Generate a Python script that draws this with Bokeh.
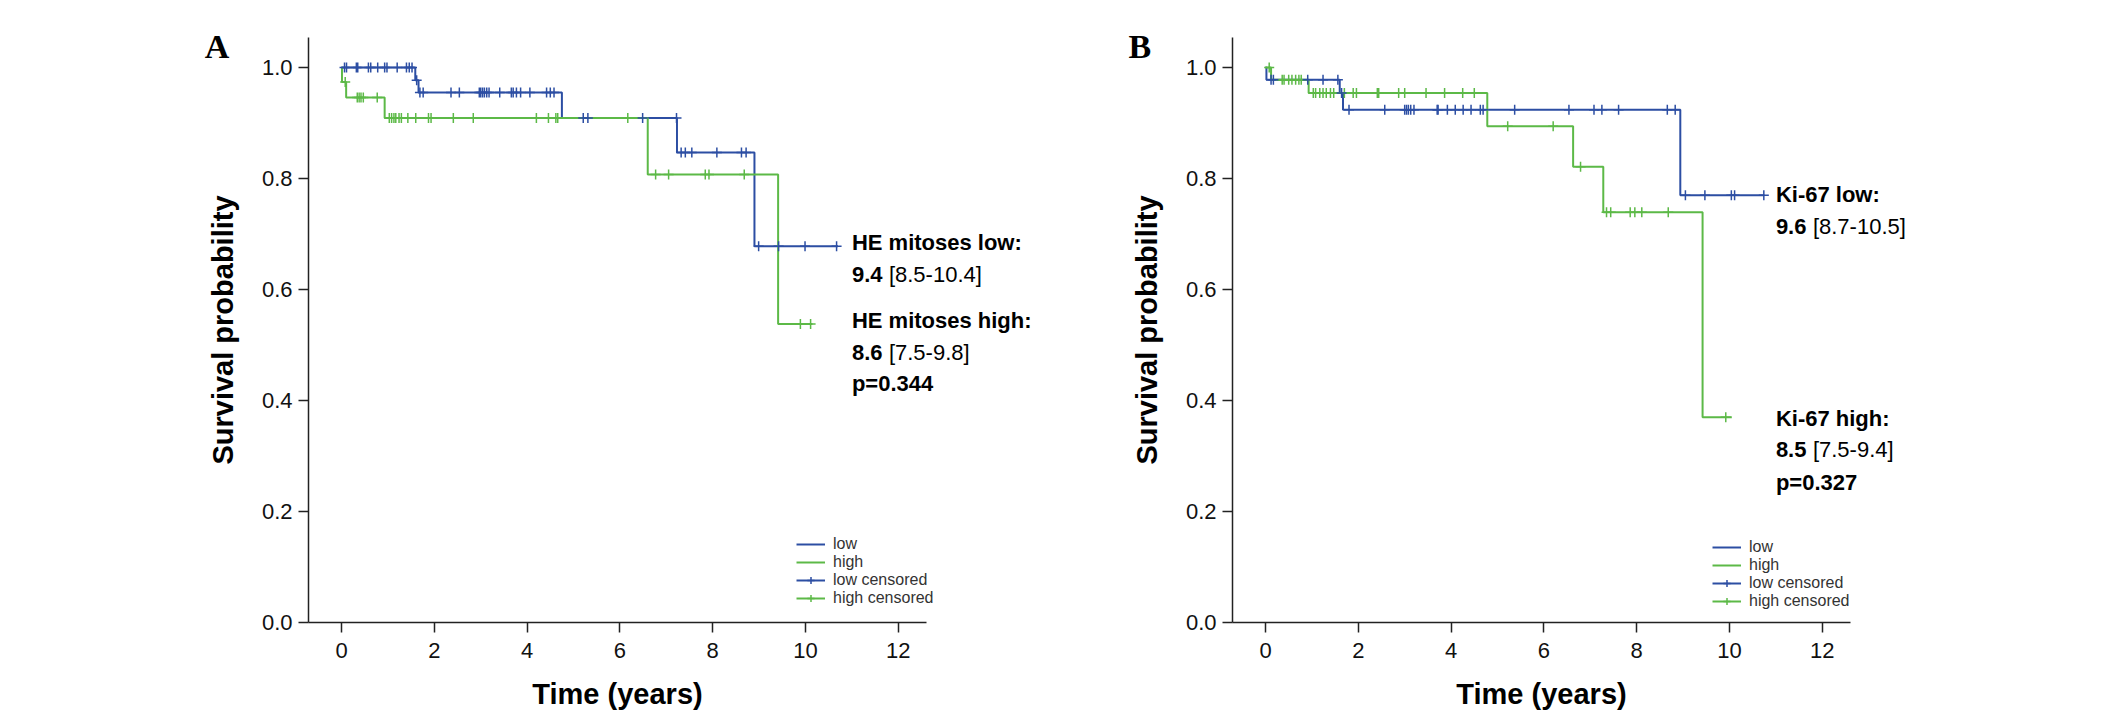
import numpy as np
from bokeh.plotting import figure
from bokeh.layouts import row
from bokeh.models import FixedTicker, NumeralTickFormatter, Label, Legend, LegendItem
from bokeh.embed import file_html
from bokeh.resources import INLINE

# survival curves: step times (years) and survival levels
a_low_t = [0.0, 1.59, 1.66, 4.75, 7.23, 8.90, 10.70]
a_low_s = [1.0, 0.977, 0.955, 0.909, 0.847, 0.678, 0.678]
a_high_t = [0.0, 0.01, 0.10, 0.93, 6.60, 9.41, 10.15]
a_high_s = [1.0, 0.974, 0.946, 0.909, 0.807, 0.538, 0.538]

a_low_cens = [0.065, 0.108, 0.32, 0.35, 0.58, 0.63, 0.78, 0.93, 0.98, 1.20, 1.40, 1.46,
              1.52, 1.62, 1.69, 1.76, 2.36, 2.54, 2.97, 3.00, 3.04, 3.08, 3.13, 3.18,
              3.41, 3.66, 3.70, 3.77, 3.86, 4.06, 4.42, 4.50, 4.58, 5.21, 5.31, 6.49,
              7.22, 7.32, 7.41, 7.55, 8.09, 8.62, 8.72, 8.99, 9.42, 9.99, 10.67]
a_high_cens = [0.08, 0.34, 0.38, 0.42, 0.47, 0.77, 1.03, 1.08, 1.13, 1.17, 1.24, 1.29,
               1.43, 1.60, 1.875, 1.93, 2.41, 2.84, 4.20, 4.46, 4.62, 4.66, 6.17, 6.77,
               7.05, 7.84, 7.92, 8.68, 9.89, 10.11]

b_low_t = [0.0, 0.02, 1.60, 1.67, 8.94, 10.75]
b_low_s = [1.0, 0.978, 0.954, 0.924, 0.770, 0.770]
b_high_t = [0.0, 0.12, 0.93, 4.78, 6.63, 7.28, 9.42, 10.05]
b_high_s = [1.0, 0.978, 0.954, 0.894, 0.821, 0.739, 0.370, 0.370]

b_low_cens = [0.12, 0.17, 0.91, 1.24, 1.56, 1.64, 1.80, 2.57, 3.00, 3.04, 3.08, 3.13,
              3.20, 3.70, 3.72, 3.92, 4.09, 4.26, 4.43, 4.63, 4.69, 5.37, 6.54, 7.08,
              7.25, 7.61, 8.66, 8.83, 9.05, 9.47, 10.04, 10.11, 10.74]
b_high_cens = [0.08, 0.36, 0.40, 0.50, 0.57, 0.65, 0.72, 0.77, 1.03, 1.08, 1.17, 1.24,
               1.31, 1.40, 1.47, 1.70, 1.89, 1.96, 2.41, 2.44, 2.87, 3.00, 3.46, 3.86,
               4.25, 4.50, 5.22, 6.20, 6.79, 7.35, 7.44, 7.86, 7.96, 8.11, 8.68, 9.92]

x_ticks = [0, 2, 4, 6, 8, 10, 12]
y_ticks = [0.0, 0.2, 0.4, 0.6, 0.8, 1.0]

a_notes = [("HE mitoses low:", 0.685), ("9.4", 0.627), ("HE mitoses high:", 0.544),
           ("8.6", 0.486), ("p=0.344", 0.431)]
a_ci = [("[8.5-10.4]", 0.627), ("[7.5-9.8]", 0.486)]
b_notes = [("Ki-67 low:", 0.771), ("9.6", 0.714), ("Ki-67 high:", 0.368),
           ("8.5", 0.311), ("p=0.327", 0.253)]
b_ci = [("[8.7-10.5]", 0.714), ("[7.5-9.4]", 0.311)]

BLUE = "#2c4ea3"
GREEN = "#5cb947"
FONT = "Liberation Sans"
X_LO, X_HI = -0.71, 12.6
Y_HI = 1.054


def level_at(times, surv, pts):
    idx = np.searchsorted(np.array(times), np.array(pts), side="right") - 1
    return list(np.array(surv)[idx])


def panel(letter, low_t, low_s, high_t, high_s, low_c, high_c, notes, ci,
          xr, fw, left, legend_xy):
    # frame covers the whole panel; the axes sit at fixed data positions inside it
    p = figure(frame_width=fw, frame_height=697, x_range=xr, y_range=(-0.1622, 1.0937),
               output_backend="svg", toolbar_location=None,
               min_border_left=left, min_border_right=0,
               min_border_top=15, min_border_bottom=0)
    p.outline_line_color = None
    p.xgrid.visible = False
    p.ygrid.visible = False

    for ax in (p.xaxis[0], p.yaxis[0]):
        ax.axis_line_color = "#222222"
        ax.axis_line_width = 1.5
        ax.major_tick_line_color = "#222222"
        ax.major_tick_line_width = 1.5
        ax.major_tick_out = 10
        ax.major_tick_in = 0
        ax.minor_tick_line_color = None
        ax.major_label_text_font = FONT
        ax.major_label_text_font_size = "22px"
        ax.major_label_text_color = "#111111"
        ax.axis_label_text_font = FONT
        ax.axis_label_text_font_size = "29px"
        ax.axis_label_text_font_style = "bold"
        ax.axis_label_text_color = "#000000"

    p.xaxis.ticker = FixedTicker(ticks=x_ticks)
    p.yaxis.ticker = FixedTicker(ticks=y_ticks)
    p.yaxis.formatter = NumeralTickFormatter(format="0.0")
    p.xaxis.bounds = (X_LO, X_HI)
    p.yaxis.bounds = (0, Y_HI)
    p.yaxis.fixed_location = X_LO
    p.xaxis.fixed_location = 0
    p.xaxis.axis_label = "Time (years)"
    p.yaxis.axis_label = "Survival probability"
    p.xaxis.major_label_standoff = 11
    p.xaxis.axis_label_standoff = 16
    p.yaxis.major_label_standoff = 6
    p.yaxis.axis_label_standoff = 20

    r_low = p.step(low_t, low_s, mode="after", line_color=BLUE, line_width=2)
    r_high = p.step(high_t, high_s, mode="after", line_color=GREEN, line_width=2)
    c_high = p.scatter(high_c, level_at(high_t, high_s, high_c), marker="cross",
                       size=10, line_color=GREEN, line_width=1.5)
    c_low = p.scatter(low_c, level_at(low_t, low_s, low_c), marker="cross",
                      size=10, line_color=BLUE, line_width=1.5)

    # the curve's own line is reused so the censored entries read as "+"
    legend = Legend(items=[LegendItem(label="low", renderers=[r_low]),
                           LegendItem(label="high", renderers=[r_high]),
                           LegendItem(label="low censored", renderers=[r_low, c_low]),
                           LegendItem(label="high censored", renderers=[r_high, c_high])],
                    location=legend_xy)
    legend.background_fill_alpha = 0
    legend.border_line_color = None
    legend.label_text_font = FONT
    legend.label_text_font_size = "16px"
    legend.label_text_color = "#333333"
    legend.glyph_width = 29
    legend.glyph_height = 18
    legend.label_height = 18
    legend.label_standoff = 8
    legend.spacing = 0
    legend.padding = 0
    legend.margin = 0
    p.add_layout(legend)

    for txt, y in notes:
        p.add_layout(Label(x=11.0, y=y, text=txt, text_font=FONT, text_font_size="22px",
                           text_font_style="bold", text_baseline="middle",
                           text_color="#000000"))
    for txt, y in ci:
        p.add_layout(Label(x=11.0, y=y, x_offset=37, text=txt, text_font=FONT,
                           text_font_size="22px", text_baseline="middle",
                           text_color="#000000"))

    p.add_layout(Label(x=-2.95, y=1.038, text=letter, text_font="Liberation Serif",
                       text_font_size="34px", text_font_style="bold",
                       text_baseline="alphabetic", text_color="#000000"))
    return p


# frame A spans page x 8..1080, frame B 1080..2118 (x = 0 at 341 and 1265)
pa = panel("A", a_low_t, a_low_s, a_high_t, a_high_s, a_low_cens, a_high_cens,
           a_notes, a_ci, (-7.177, 15.927), 1072, 8, (788, 105))
pb = panel("B", b_low_t, b_low_s, b_high_t, b_high_s, b_low_cens, b_high_cens,
           b_notes, b_ci, (-3.987, 18.384), 1038, 0, (632, 102))

layout = row(pa, pb)
open("out.html", "w").write(file_html(layout, INLINE))
